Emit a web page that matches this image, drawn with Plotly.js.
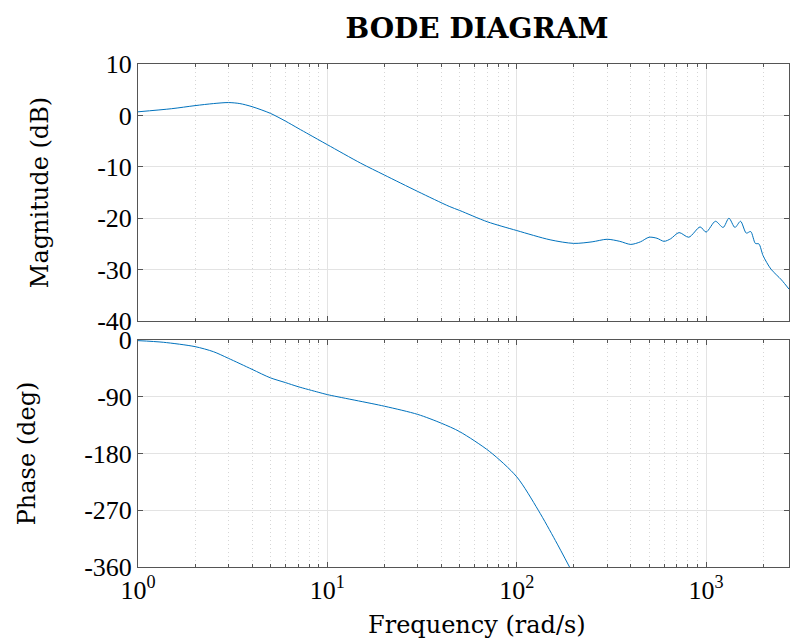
<!DOCTYPE html>
<html>
<head>
<meta charset="utf-8">
<script src="https://cdn.plot.ly/plotly-3.0.1.min.js"></script>
<style>html,body{margin:0;padding:0;background:#fff;}#chart{width:790px;height:642px;}</style>
</head>
<body>
<div id="chart"></div>
<script>
const freqMag = [1, 1.5, 2, 2.5, 3, 3.45, 4, 5, 6, 7, 8, 10, 15, 20, 30, 44, 50, 70, 100, 150, 200, 250, 300, 350, 400, 450, 500, 550, 600, 650, 720, 810, 930, 1000, 1120, 1230, 1320, 1420, 1520, 1630, 1720, 1820, 1900, 2000, 2200, 2500, 2740];
const magDb = [0.7, 1.3, 1.9, 2.3, 2.5, 2.3, 1.7, 0.4, -1.1, -2.5, -3.7, -5.7, -9.3, -11.6, -14.8, -17.7, -18.5, -20.7, -22.4, -24.2, -24.9, -24.6, -24.1, -24.5, -25.1, -24.6, -23.7, -23.9, -24.5, -24.0, -22.8, -23.7, -21.7, -22.7, -20.6, -21.8, -20.0, -21.8, -20.6, -22.9, -22.6, -24.9, -25.0, -27.3, -29.9, -32.0, -33.8];
const freqPhase = [1, 1.36, 2, 2.5, 3, 4, 5, 6, 7, 9, 10, 20, 30, 40, 50, 72, 100, 130, 160, 190];
const phaseDeg = [-1, -3.6, -10.5, -18.5, -29, -46.5, -60, -67.5, -74, -83, -86.6, -105, -118, -132, -145.4, -177, -217, -270, -318, -360];
const majorTicks = [1, 10, 100, 1000];
const majorTickText = ['10<sup>0</sup>', '10<sup>1</sup>', '10<sup>2</sup>', '10<sup>3</sup>'];
const minorTicks = [2,3,4,5,6,7,8,9,20,30,40,50,60,70,80,90,200,300,400,500,600,700,800,900,2000];
const magTicks = [10, 0, -10, -20, -30, -40];
const phaseTicks = [0, -90, -180, -270, -360];

const tickFont = 'Liberation Serif, serif';
const titleFont = 'DejaVu Serif, serif';
const axisCol = '#555555';
const gridCol = '#e3e3e3';
const lineCol = '#0072BD';

const xCommon = {
  type: 'log', range: [0, Math.log10(2740)],
  tickmode: 'array', tickvals: majorTicks,
  ticks: 'inside', ticklen: 5, tickcolor: axisCol,
  showline: true, linecolor: axisCol, linewidth: 1, mirror: 'ticks',
  showgrid: true, gridcolor: gridCol, gridwidth: 1,
  zeroline: false,
  minor: { tickvals: minorTicks, ticks: 'inside', ticklen: 3, tickcolor: axisCol, showgrid: true, gridcolor: '#d6d6d6', griddash: '1px,3px', gridwidth: 1 },
  tickfont: { family: tickFont, size: 26, color: '#000' }
};

const traces = [
  { x: freqMag, y: magDb, type: 'scatter', mode: 'lines', line: { color: lineCol, width: 1, shape: 'spline', smoothing: 0.8 }, xaxis: 'x', yaxis: 'y', hoverinfo: 'skip' },
  { x: freqPhase, y: phaseDeg, type: 'scatter', mode: 'lines', line: { color: lineCol, width: 1, shape: 'spline', smoothing: 0.8 }, xaxis: 'x2', yaxis: 'y2', hoverinfo: 'skip' }
];

const layout = {
  width: 790, height: 642,
  margin: { l: 138, r: 1, t: 64, b: 75 },
  paper_bgcolor: '#fff', plot_bgcolor: '#fff',
  showlegend: false,
  title: { text: '<b>BODE DIAGRAM</b>', font: { family: titleFont, size: 28, color: '#000' }, x: 477/790, xanchor: 'center', y: 1 - 28/642, yanchor: 'middle', xref: 'container', yref: 'container' },
  xaxis: Object.assign({}, xCommon, { domain: [0, 1], anchor: 'y', showticklabels: false, matches: 'x2' }),
  xaxis2: Object.assign({}, xCommon, { domain: [0, 1], anchor: 'y2', ticktext: majorTickText }),
  yaxis: {
    domain: [246/503, 1], anchor: 'x', range: [-40, 10],
    tickmode: 'array', tickvals: magTicks, ticktext: magTicks.map(String),
    ticks: 'inside', ticklen: 5, tickcolor: axisCol,
    showline: true, linecolor: axisCol, mirror: 'ticks',
    showgrid: true, gridcolor: gridCol, zeroline: false,
    tickfont: { family: tickFont, size: 26, color: '#000' },
    title: { text: 'Magnitude (dB)', font: { family: titleFont, size: 24, color: '#000' }, standoff: 41 }
  },
  yaxis2: {
    domain: [0, 227/503], anchor: 'x2', range: [-360, 0],
    tickmode: 'array', tickvals: phaseTicks, ticktext: phaseTicks.map(String),
    ticks: 'inside', ticklen: 5, tickcolor: axisCol,
    showline: true, linecolor: axisCol, mirror: 'ticks',
    showgrid: true, gridcolor: gridCol, zeroline: false,
    tickfont: { family: tickFont, size: 26, color: '#000' },
    title: { text: 'Phase (deg)', font: { family: titleFont, size: 24, color: '#000' }, standoff: 41 }
  },
  annotations: [
    { text: 'Frequency (rad/s)', xref: 'paper', yref: 'paper', x: (477 - 138) / 651, y: (567 - 625) / 503, xanchor: 'center', yanchor: 'middle', showarrow: false, font: { family: titleFont, size: 24, color: '#000' } }
  ]
};

Plotly.newPlot('chart', traces, layout, { displayModeBar: false, staticPlot: true });
</script>
</body>
</html>
